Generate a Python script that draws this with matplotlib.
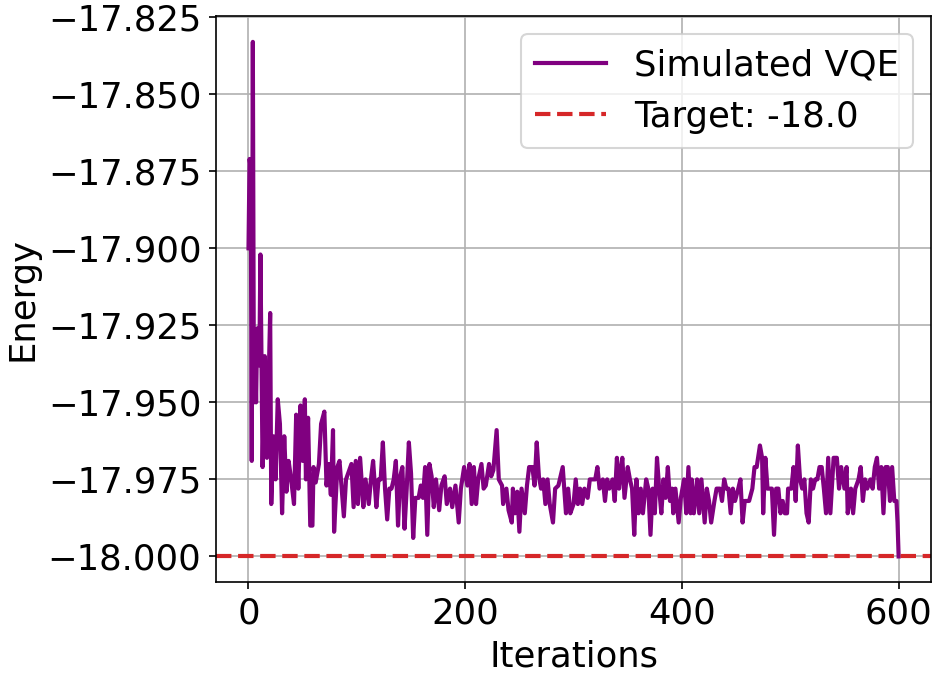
import numpy as np
import matplotlib
matplotlib.use("Agg")
import matplotlib.pyplot as plt

# values (iteration, energy)
iterations = [
    0, 1, 2, 3, 4, 5, 6, 7, 8, 10, 11, 13, 15, 17, 20, 21, 23, 25, 27, 29,
    31, 33, 35, 37, 39, 42, 44, 46, 48, 50, 52, 53, 55, 57, 59, 60, 62, 65, 67, 70,
    72, 74, 76, 78, 79, 82, 84, 86, 88, 90, 92, 95, 97, 99, 101, 103, 106, 108, 111, 113,
    115, 118, 120, 122, 124, 126, 128, 130, 132, 134, 136, 138, 140, 142, 144, 146, 148, 150, 152, 154,
    157, 159, 161, 163, 165, 167, 169, 171, 173, 176, 178, 181, 183, 186, 188, 191, 194, 196, 199, 202,
    204, 206, 208, 210, 212, 215, 217, 219, 222, 224, 226, 229, 231, 234, 235, 238, 240, 243, 244, 246,
    248, 250, 252, 255, 257, 259, 262, 264, 266, 268, 270, 272, 274, 276, 278, 281, 283, 286, 288, 290,
    293, 295, 297, 300, 302, 304, 306, 308, 310, 313, 315, 317, 320, 322, 324, 327, 329, 331, 333, 336,
    338, 340, 342, 344, 345, 347, 350, 352, 354, 356, 358, 360, 362, 364, 367, 369, 371, 373, 375, 377,
    379, 381, 383, 385, 387, 389, 391, 392, 394, 397, 399, 402, 404, 406, 408, 409, 411, 414, 416, 418,
    421, 423, 425, 427, 430, 432, 435, 437, 439, 441, 443, 445, 447, 449, 452, 454, 456, 458, 460, 462,
    465, 467, 469, 472, 474, 475, 477, 479, 482, 483, 485, 487, 489, 491, 493, 495, 497, 498, 501, 503,
    505, 507, 509, 511, 513, 515, 517, 519, 521, 523, 525, 527, 529, 531, 533, 535, 537, 540, 543, 545,
    547, 550, 552, 553, 556, 558, 560, 563, 565, 567, 569, 571, 574, 576, 578, 580, 582, 584, 586, 588,
    590, 592, 594, 596, 598, 599, 600,
]
energies = [
    -17.900, -17.871, -17.874, -17.969, -17.833, -17.950, -17.930, -17.950, -17.926, -17.938,
    -17.902, -17.971, -17.935, -17.968, -17.921, -17.983, -17.961, -17.975, -17.949, -17.957,
    -17.986, -17.961, -17.979, -17.969, -17.974, -17.983, -17.954, -17.978, -17.951, -17.969,
    -17.949, -17.975, -17.955, -17.990, -17.990, -17.971, -17.976, -17.970, -17.957, -17.953,
    -17.977, -17.970, -17.980, -17.959, -17.992, -17.971, -17.969, -17.978, -17.987, -17.975,
    -17.973, -17.970, -17.984, -17.969, -17.983, -17.968, -17.984, -17.975, -17.983, -17.975,
    -17.969, -17.984, -17.975, -17.975, -17.963, -17.978, -17.988, -17.978, -17.978, -17.975,
    -17.969, -17.990, -17.974, -17.971, -17.991, -17.978, -17.963, -17.973, -17.994, -17.981,
    -17.981, -17.977, -17.981, -17.971, -17.993, -17.970, -17.974, -17.984, -17.975, -17.985,
    -17.977, -17.974, -17.983, -17.978, -17.984, -17.977, -17.989, -17.978, -17.971, -17.977,
    -17.970, -17.983, -17.971, -17.983, -17.975, -17.970, -17.978, -17.977, -17.970, -17.974,
    -17.972, -17.959, -17.975, -17.977, -17.983, -17.978, -17.985, -17.989, -17.978, -17.986,
    -17.979, -17.992, -17.978, -17.986, -17.977, -17.971, -17.971, -17.977, -17.963, -17.974,
    -17.978, -17.975, -17.983, -17.975, -17.983, -17.989, -17.978, -17.977, -17.974, -17.971,
    -17.986, -17.978, -17.986, -17.983, -17.975, -17.983, -17.978, -17.983, -17.978, -17.981,
    -17.975, -17.975, -17.975, -17.971, -17.978, -17.975, -17.982, -17.975, -17.978, -17.975,
    -17.982, -17.968, -17.978, -17.971, -17.968, -17.981, -17.971, -17.975, -17.978, -17.993,
    -17.975, -17.986, -17.978, -17.986, -17.975, -17.978, -17.993, -17.978, -17.986, -17.968,
    -17.978, -17.986, -17.975, -17.981, -17.971, -17.982, -17.978, -17.986, -17.978, -17.989,
    -17.981, -17.975, -17.986, -17.971, -17.986, -17.975, -17.986, -17.975, -17.986, -17.975,
    -17.989, -17.978, -17.982, -17.989, -17.982, -17.978, -17.978, -17.982, -17.975, -17.978,
    -17.978, -17.986, -17.978, -17.982, -17.978, -17.975, -17.989, -17.982, -17.982, -17.982,
    -17.978, -17.971, -17.971, -17.964, -17.968, -17.986, -17.968, -17.978, -17.978, -17.978,
    -17.993, -17.978, -17.978, -17.986, -17.982, -17.986, -17.986, -17.978, -17.978, -17.971,
    -17.982, -17.964, -17.975, -17.978, -17.975, -17.986, -17.989, -17.975, -17.978, -17.975,
    -17.975, -17.971, -17.971, -17.978, -17.986, -17.968, -17.986, -17.968, -17.968, -17.978,
    -17.971, -17.978, -17.971, -17.986, -17.978, -17.986, -17.978, -17.975, -17.971, -17.982,
    -17.975, -17.978, -17.975, -17.978, -17.971, -17.968, -17.978, -17.971, -17.986, -17.971,
    -17.971, -17.982, -17.971, -17.982, -17.982, -17.989, -18.000,
]
target = -18.0
xticks = [0, 200, 400, 600]
yticks = [-18.000, -17.975, -17.950, -17.925, -17.900, -17.875, -17.850, -17.825]

dpi = 150
fig = plt.figure(figsize=(933 / dpi, 673 / dpi), dpi=dpi)
ax = fig.add_subplot(111)
fig.subplots_adjust(left=0.2315, right=0.998, top=0.976, bottom=0.135)

ax.plot(iterations, energies, color='purple', linewidth=2, label='Simulated VQE')
ax.axhline(target, color='#d62728', linestyle='--', linewidth=2, label=f'Target: {target}')

ax.set_xticks(xticks)
ax.set_yticks(yticks)
ax.set_yticklabels([f'\u2212{abs(v):.3f}' for v in yticks])
ax.set_xlabel('Iterations', fontsize=17)
ax.set_ylabel('Energy', fontsize=17)
ax.tick_params(labelsize=17)
ax.legend(fontsize=17, loc='upper right')
ax.grid(True)

fig.savefig('out.png', dpi=dpi)
